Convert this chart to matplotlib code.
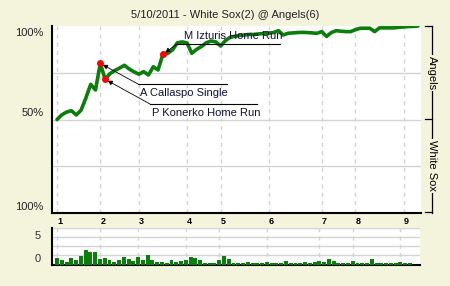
import matplotlib
matplotlib.use('Agg')
import matplotlib.pyplot as plt
from matplotlib.lines import Line2D

# ---------------- data ----------------
title = "5/10/2011 - White Sox(2) @ Angels(6)"
team_top = "Angels"
team_bottom = "White Sox"
y_labels = ["100%", "50%", "100%"]
inning_labels = ["1", "2", "3", "4", "5", "6", "7", "8", "9"]
inning_start = [0, 9, 17, 27, 34, 44, 55, 62, 72]

# Angels win probability after each play
win_prob = [0.500, 0.525, 0.540, 0.547, 0.524, 0.550, 0.615, 0.688, 0.658, 0.800,
            0.715, 0.745, 0.762, 0.775, 0.790, 0.770, 0.755, 0.742, 0.756, 0.738,
            0.782, 0.765, 0.849, 0.854, 0.872, 0.910, 0.915, 0.910, 0.854, 0.875,
            0.890, 0.910, 0.920, 0.915, 0.893, 0.922, 0.940, 0.945, 0.950, 0.952,
            0.955, 0.955, 0.958, 0.960, 0.962, 0.965, 0.975, 0.952, 0.961, 0.963,
            0.965, 0.966, 0.965, 0.963, 0.961, 0.970, 0.944, 0.965, 0.975, 0.972,
            0.970, 0.970, 0.980, 0.988, 0.988, 0.988, 0.970, 0.990, 0.990, 0.990,
            0.990, 0.993, 0.995, 0.997, 0.998, 1.000]

# leverage bars (one per play)
leverage = [7, 5.3, 3, 7, 5, 9, 15, 13, 13, 6,
            7, 5, 3, 5, 8, 6, 4, 8, 5, 10,
            5, 3, 3, 2, 5, 3, 4, 5, 8, 7,
            5, 2, 2, 2, 5, 9, 6, 2, 2, 2,
            3, 2, 2, 2, 3, 2, 2, 2, 4, 2,
            2, 2, 3, 2, 3, 4, 3, 6, 4, 2,
            2, 2, 4, 2, 2, 2, 6, 2, 2, 2,
            2, 2, 3, 2, 2]
lev_labels = ["0", "5"]

event_names = ["A Callaspo Single", "P Konerko Home Run", "M Izturis Home Run"]
event_plays = [9, 10, 22]

# ---------------- style ----------------
BG = "#F4F3DC"
GREEN = "#0B7D0B"
GRID = "#D4D4D4"
W, H = 450, 286
FONT = "Liberation Sans"
plt.rcParams['font.family'] = [FONT, 'DejaVu Sans']

fig = plt.figure(figsize=(W / 100, H / 100), dpi=100, facecolor=BG)


def fx(x):
    return x / W


def fy(y):
    return 1 - y / H


# ---------------- main axes ----------------
ax = fig.add_axes([fx(52), fy(213), (421 - 52) / W, (213 - 26) / H])
ax.set_facecolor("white")
n = len(win_prob)
ax.set_xlim(-1.04, 75.63)
ax.set_ylim(0, 1)

for g in [0.25, 0.5, 0.75]:
    ax.axhline(g, color=GRID, lw=1.0, zorder=1)
for s in inning_start:
    ax.axvline(s, color=GRID, lw=1.0, ls=(0, (3, 3)), zorder=1)

ax.plot(range(n), win_prob, color=GREEN, lw=2.6, solid_joinstyle='round',
        solid_capstyle='round', zorder=3)

for sp in ['top', 'right']:
    ax.spines[sp].set_visible(False)
for sp in ['left', 'bottom']:
    ax.spines[sp].set_color('black')
    ax.spines[sp].set_linewidth(1.5)

ax.set_xticks(inning_start)
ax.set_xticklabels(inning_labels, fontsize=6.5, fontweight='bold', ha='left')
ax.tick_params(axis='x', length=0, pad=3)
ax.set_yticks([0.968, 0.54, 0.037])
ax.set_yticklabels(y_labels, fontsize=8, color='#222222')
ax.tick_params(axis='y', length=0, pad=6)

# event markers & annotations
line_geo = [  # (line x0, line x1, line y, text x, text y)
    (138, 227, 84, 140, 93),
    (150, 257, 104, 152, 113),
    (177, 280, 44, 184, 36),
]
for name, p, (x0, x1, ly, tx, ty) in zip(event_names, event_plays, line_geo):
    ax.annotate('', xy=(p, win_prob[p]), xycoords='data',
                xytext=(fx(x0), fy(ly)), textcoords='figure fraction',
                arrowprops=dict(arrowstyle='-|>', color='black', lw=0.6,
                                mutation_scale=7, shrinkA=0, shrinkB=2),
                zorder=4)
    fig.add_artist(Line2D([fx(x0), fx(x1)], [fy(ly), fy(ly)],
                          transform=fig.transFigure, color='black', lw=0.8))
    fig.text(fx(tx), fy(ty), name, fontsize=8, ha='left', va='center',
             color='#111133')
    ax.plot([p], [win_prob[p]], 'o', color='red', ms=5, mew=0, zorder=5)

# title
fig.text(0.5, fy(15), title, fontsize=8, ha='center', va='center', color='#222222')

# right brackets
bx = fx(432)
fig.add_artist(Line2D([bx, bx], [fy(26), fy(213)], transform=fig.transFigure,
                      color='black', lw=0.9))
for yy in [26, 119, 212]:
    fig.add_artist(Line2D([fx(425), bx], [fy(yy), fy(yy)],
                          transform=fig.transFigure, color='black', lw=0.9))
fig.text(bx, fy(73), team_top, rotation=270, fontsize=8, ha='center', va='center',
         bbox=dict(facecolor=BG, edgecolor='none', pad=1.0))
fig.text(bx, fy(166), team_bottom, rotation=270, fontsize=8, ha='center',
         va='center', bbox=dict(facecolor=BG, edgecolor='none', pad=1.0))

# ---------------- leverage axes ----------------
ax2 = fig.add_axes([fx(52), fy(265), (420 - 52) / W, (265 - 228) / H])
ax2.set_facecolor("white")
ax2.set_xlim(-1.05, 76.1)
ax2.set_ylim(0, 37)
for g in [9.7, 18.7, 27.7, 36.6]:
    ax2.axhline(g, color=GRID, lw=1.0, zorder=1)
for s in inning_start:
    ax2.axvline(s, color=GRID, lw=1.0, ls=(0, (3, 3)), zorder=1)
ax2.bar(range(len(leverage)), leverage, width=0.82, color='#087F08', zorder=3)
for sp in ['top', 'right']:
    ax2.spines[sp].set_visible(False)
for sp in ['left', 'bottom']:
    ax2.spines[sp].set_color('black')
    ax2.spines[sp].set_linewidth(1.5)
ax2.set_xticks([])
ax2.set_yticks([7, 30])
ax2.set_yticklabels(lev_labels, fontsize=8, color='#333333')
ax2.tick_params(axis='y', length=0, pad=8)

fig.savefig("out.png", dpi=100, facecolor=BG)
